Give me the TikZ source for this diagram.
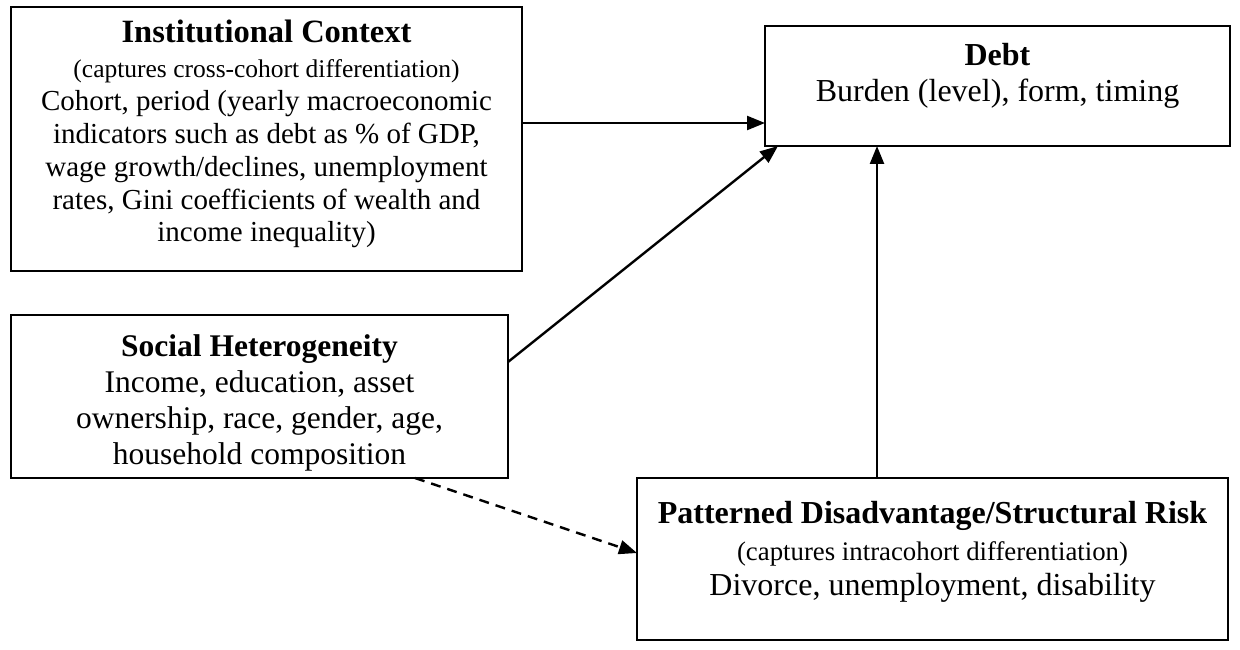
\documentclass[tikz,border=0pt]{standalone}
\usepackage{fontspec}
\setmainfont{Liberation Serif}
\usetikzlibrary{arrows.meta,calc}
\begin{document}
\begin{tikzpicture}[x=1pt,y=-1pt,
  box/.style={draw,line width=1.8pt,inner sep=0pt,outer sep=0pt,anchor=north west},
  lbl/.style={anchor=base,inner sep=0pt},
  ttl/.style={lbl,font=\fontsize{31.5}{36}\selectfont\bfseries},
  bdy/.style={lbl,font=\fontsize{29}{33}\selectfont},
  bdyl/.style={lbl,font=\fontsize{31.5}{36}\selectfont},
  sml/.style={lbl,font=\fontsize{25.5}{30}\selectfont},
  arr/.style={line width=2.4pt,-{Triangle[length=18pt,width=14pt]}},
  darr/.style={arr,dash pattern=on 10pt off 7pt}]
\fill[white] (0,0) rectangle (1240,650);
\useasboundingbox (0,0) rectangle (1240,650);
% boxes
\node[box,minimum width=511pt,minimum height=264pt] (ic) at (11,7) {};
\node[box,minimum width=465pt,minimum height=120pt] (debt) at (765,26) {};
\node[box,minimum width=497pt,minimum height=163pt] (sh) at (11,315) {};
\node[box,minimum width=591pt,minimum height=162pt] (pat) at (637,478) {};
% Institutional Context
\node[ttl,font=\fontsize{32.5}{36}\selectfont\bfseries] (ic1) at (266.5,42.5) {Institutional Context};
\node[sml] (ic2) at (266.5,77.5) {(captures cross-cohort differentiation)};
\node[bdy] (ic3) at (266.5,110.7) {Cohort, period (yearly macroeconomic};
\node[bdy] (ic4) at (266.5,143.5) {indicators such as debt as \% of GDP,};
\node[bdy] (ic5) at (266.5,176.2) {wage growth/declines, unemployment};
\node[bdy] (ic6) at (266.5,209) {rates, Gini coefficients of wealth and};
\node[bdy] (ic7) at (266.5,241.7) {income inequality)};
% Debt
\node[ttl,font=\fontsize{32}{36}\selectfont\bfseries] (d1) at (997.5,66) {Debt};
\node[bdyl,font=\fontsize{32}{36}\selectfont] (d2) at (997.5,101.6) {Burden (level), form, timing};
% Social Heterogeneity
\node[ttl] (s1) at (259.5,356.5) {Social Heterogeneity};
\node[bdyl] (s2) at (259.5,392.4) {Income, education, asset};
\node[bdyl] (s3) at (259.5,428.4) {ownership, race, gender, age,};
\node[bdyl] (s4) at (259.5,464.4) {household composition};
% Patterned
\node[ttl,font=\fontsize{32}{36}\selectfont\bfseries] (p1) at (932.5,523) {Patterned Disadvantage/Structural Risk};
\node[sml,font=\fontsize{26.8}{30}\selectfont] (p2) at (932.5,560) {(captures intracohort differentiation)};
\node[bdyl,font=\fontsize{32}{36}\selectfont] (p3) at (932.5,595) {Divorce, unemployment, disability};
% connectors
\draw[arr] ($(ic.north east)+(0,116)$) -- ($(debt.north west)+(0,97)$);
\draw[arr] ($(sh.north east)+(0,47)$) -- ($(debt.south west)+(13,0)$);
\draw[arr] ($(pat.north west)+(240,0)$) -- ($(debt.south west)+(112,0)$);
\draw[darr] ($(sh.south west)+(404,0)$) -- ($(pat.north west)+(0,75)$);
\end{tikzpicture}
\end{document}
